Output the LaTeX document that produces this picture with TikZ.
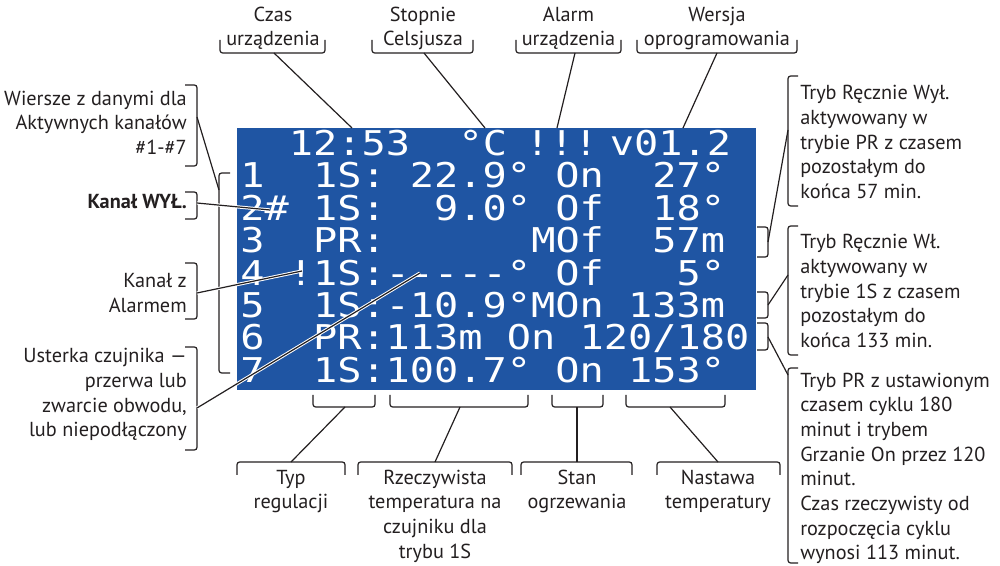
\documentclass[tikz,border=0pt]{standalone}
\usepackage{fontspec}
\setmainfont{PT Sans}
\newfontfamily\lcdfont[FakeStretch=1.18]{DejaVu Sans Mono}
\definecolor{lcdblue}{RGB}{31,85,163}
\definecolor{ink}{RGB}{35,31,32}
\newcommand\labfont{\fontsize{15.2pt}{18.5pt}\selectfont}
\newcommand\lcdsize{\lcdfont\fontsize{25.6pt}{30pt}\selectfont}
\newcommand\hy{\mbox{-}}
\begin{document}
\begin{tikzpicture}[x=0.75pt,y=-0.75pt,
  con/.style={draw=ink,line width=0.9pt},
  halo/.style={draw=ink,line width=0.9pt,preaction={draw=white,line width=2.4pt}},
  brk/.style={draw=ink,line width=0.9pt,rounded corners=2pt},
  lbl/.style={font=\labfont,text=ink,inner sep=0pt},
  lcdtxt/.style={font=\lcdsize,text=white,inner sep=0pt,anchor=base west}]
\useasboundingbox (0,0) rectangle (1000,566);
% LCD
\fill[lcdblue] (237,128) rectangle (756,390);
\node[lcdtxt] (time)  at (288.5,155.5) {12:53};
\node[lcdtxt] (degc)  at (458.25,155.5) {°C};
\node[lcdtxt] (alarm) at (525,155.5) {!!!};
\node[lcdtxt] (ver)   at (609.5,155.5) {v01.2};
\node[lcdtxt] (r1) at (240,188)   {1~~1S:~22.9°~On~~27°};
\node[lcdtxt] (r2) at (240,220.3) {2\#~1S:~~9.0°~Of~~18°};
\node[lcdtxt] (r3) at (240,252.7) {3~~PR:~~~~~~MOf~~57m};
\node[lcdtxt] (r4) at (240,285.1) {4~!1S:\hy\hy\hy\hy\hy°~Of~~~5°};
\node[lcdtxt] (r5) at (240,317.5) {5~~1S:\hy10.9°MOn~133m};
\node[lcdtxt] (r6) at (240,349.9) {6~~PR:113m~On~120/180};
\node[lcdtxt] (r7) at (240,382.3) {7~~1S:100.7°~On~153°};
% top labels
\node[lbl,align=center,anchor=north] (czas) at (273,3.7) {\strut Czas\\urządzenia};
\node[lbl,align=center,anchor=north] (stop) at (423,3.7) {\strut Stopnie\\Celsjusza};
\node[lbl,align=center,anchor=north] (alrm) at (568.5,3.7) {\strut Alarm\\urządzenia};
\node[lbl,align=center,anchor=north] (wers) at (717,3.7) {\strut Wersja\\oprogramowania};
\draw[brk] (220,40) -- (220,53) -- (325,53) -- (325,40);
\draw[brk] (372,40) -- (372,53) -- (473,53) -- (473,40);
\draw[brk] (516,40) -- (516,53) -- (621,53) -- (621,40);
\draw[brk] (637,40) -- (637,53) -- (797,53) -- (797,40);
\coordinate (czasB) at (274,53);  \coordinate (czasE) at (352,128);
\coordinate (stopB) at (424,53);  \coordinate (stopE) at (485,128);
\coordinate (alrmB) at (575,53);  \coordinate (alrmE) at (557,128);
\coordinate (wersB) at (717,53);  \coordinate (wersE) at (683,128);
\draw[con] (czasB) -- (czasE);
\draw[con] (stopB) -- (stopE);
\draw[con] (alrmB) -- (alrmE);
\draw[con] (wersB) -- (wersE);
% left labels
\node[lbl,align=right,anchor=north east] (wier) at (187,87.7) {\strut Wiersze z danymi dla\\Aktywnych kanałów\\\#1-\#7};
\node[lbl,align=right,anchor=north east] (kwyl) at (187,191.2) {\strut\textbf{Kanał WYŁ.}};
\node[lbl,align=right,anchor=north east] (kalr) at (187,270.2) {\strut Kanał z\\Alarmem};
\node[lbl,align=right,anchor=north east] (ust) at (187,345.2) {\strut Usterka czujnika —\\przerwa lub\\zwarcie obwodu,\\lub niepodłączony};
\draw[brk] (185,85) -- (197,85) -- (197,166) -- (185,166);
\draw[brk] (185,192) -- (197,192) -- (197,219) -- (185,219);
\draw[brk] (185,263) -- (197,263) -- (197,319) -- (185,319);
\draw[brk] (185,347) -- (197,347) -- (197,450) -- (185,450);
\draw[brk] (230,173) -- (219,173) -- (219,373) -- (230,373);
\coordinate (wierB) at (197,117);  \coordinate (wierE) at (219,190);
\coordinate (kwylB) at (197,203);  \coordinate (hash) at (270,210);
\coordinate (kalrB) at (197,293);  \coordinate (excl) at (302,271);
\coordinate (ustB) at (197,408);   \coordinate (dash) at (420,273);
\draw[con] (wierB) -- (wierE);
\draw[halo] (kwylB) -- (hash);
\draw[halo] (kalrB) -- (excl);
\draw[halo] (ustB) -- (dash);
% right labels
\node[lbl,align=left,anchor=north west] (tr1) at (800,82.2) {\strut Tryb Ręcznie Wył.\\aktywowany w\\trybie PR z czasem\\pozostałym do\\końca 57 min.};
\node[lbl,align=left,anchor=north west] (tr2) at (800,231.2) {\strut Tryb Ręcznie Wł.\\aktywowany w\\trybie 1S z czasem\\pozostałym do\\końca 133 min.};
\node[lbl,align=left,anchor=north west] (tr3) at (800,369.7) {\strut Tryb PR z ustawionym\\czasem cyklu 180\\minut i trybem\\Grzanie On przez 120\\minut.\\Czas rzeczywisty od\\rozpoczęcia cyklu\\wynosi 113 minut.};
\draw[brk] (798,76) -- (788,76) -- (788,206) -- (798,206);
\draw[brk] (798,226) -- (788,226) -- (788,355) -- (798,355);
\draw[brk] (798,368) -- (788,368) -- (788,563) -- (798,563);
\draw[brk] (757,227) -- (768,227) -- (768,257) -- (757,257);
\draw[brk] (757,292) -- (768,292) -- (768,318) -- (757,318);
\draw[brk] (757,323) -- (768,323) -- (768,350) -- (757,350);
\coordinate (r3B) at (768,242); \coordinate (tr1E) at (788,130);
\coordinate (r5B) at (768,305); \coordinate (tr2E) at (788,275);
\coordinate (r6B) at (768,337); \coordinate (tr3E) at (788,375);
\draw[con] (r3B) -- (tr1E);
\draw[con] (r5B) -- (tr2E);
\draw[con] (r6B) -- (tr3E);
% bottom labels
\node[lbl,align=center,anchor=north] (typ) at (291,466.7) {\strut Typ\\regulacji};
\node[lbl,align=center,anchor=north] (rzecz) at (435,466.7) {\strut Rzeczywista\\temperatura na\\czujniku dla\\trybu 1S};
\node[lbl,align=center,anchor=north] (stan) at (577,466.7) {\strut Stan\\ogrzewania};
\node[lbl,align=center,anchor=north] (nast) at (718,466.7) {\strut Nastawa\\temperatury};
\draw[brk] (313,395) -- (313,407) -- (375,407) -- (375,395);
\draw[brk] (390,395) -- (390,407) -- (528,407) -- (528,395);
\draw[brk] (552,395) -- (552,407) -- (603,407) -- (603,395);
\draw[brk] (626,395) -- (626,407) -- (725,407) -- (725,395);
\draw[brk] (237,475) -- (237,462) -- (345,462) -- (345,475);
\draw[brk] (358,475) -- (358,462) -- (512,462) -- (512,475);
\draw[brk] (521,475) -- (521,462) -- (632,462) -- (632,475);
\draw[brk] (657,475) -- (657,462) -- (780,462) -- (780,475);
\coordinate (typB) at (345,407);   \coordinate (typE) at (291,462);
\coordinate (rzB) at (460,407);    \coordinate (rzE) at (435,462);
\coordinate (stB) at (577,407);    \coordinate (stE) at (577,462);
\coordinate (naB) at (670,407);    \coordinate (naE) at (718,462);
\draw[con] (typB) -- (typE);
\draw[con] (rzB) -- (rzE);
\draw[con] (stB) -- (stE);
\draw[con] (naB) -- (naE);
\end{tikzpicture}
\end{document}
